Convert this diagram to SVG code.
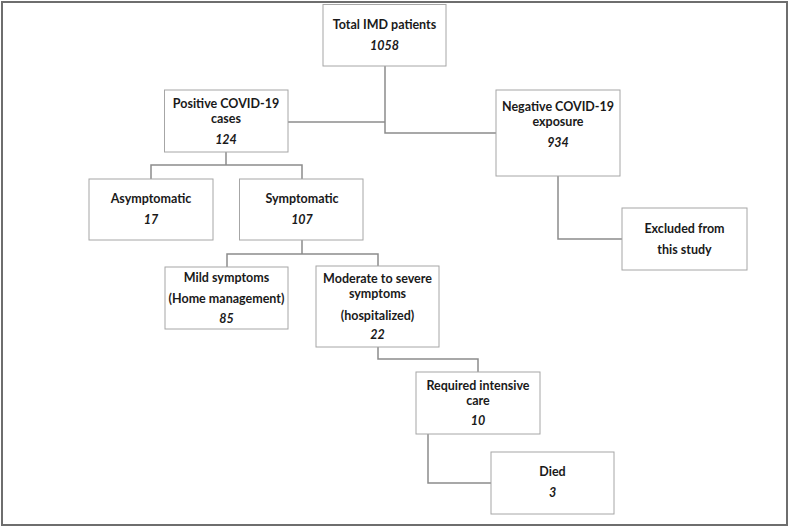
<svg xmlns="http://www.w3.org/2000/svg" width="790" height="528" viewBox="0 0 790 528">
<style>
.box{fill:#fff;stroke:#a6a6a6;stroke-width:1}
.t{font-family:Lato,"Open Sans","Liberation Sans",sans-serif;font-weight:bold;font-size:12.5px;fill:#1a1a1a;text-anchor:middle}
.n{font-style:italic}
.c{fill:none;stroke:#8c8c8c;stroke-width:1.5}
</style>
<rect x="0" y="0" width="790" height="528" fill="#fff"/>
<rect x="2" y="2" width="785" height="523" fill="none" stroke="#6e6e6e" stroke-width="2"/>
<g id="connectors">
<path class="c" d="M385,66 V133 H496"/>
<path class="c" d="M288,122 H385"/>
<path class="c" d="M558,176 V239 H622"/>
<path class="c" d="M226,152 V165 M151,179 V165 H302 V179"/>
<path class="c" d="M302,240 V254 M227,267 V254 H378 V266"/>
<path class="c" d="M378,347 V359 H478 V372"/>
<path class="c" d="M428,434 V483 H491"/>
</g>
<g id="total">
<rect class="box" x="323" y="4.5" width="123" height="61.5"/>
<text class="t" x="384.5" y="29">Total IMD patients</text>
<text class="t n" x="384.5" y="50">1058</text>
</g>
<g id="positive">
<rect class="box" x="164.5" y="90" width="123.5" height="62"/>
<text class="t" x="226" y="108">Positive COVID-19</text>
<text class="t" x="226" y="123">cases</text>
<text class="t n" x="226" y="144">124</text>
</g>
<g id="negative">
<rect class="box" x="496" y="90" width="124" height="86"/>
<text class="t" x="558" y="111">Negative COVID-19</text>
<text class="t" x="558" y="126">exposure</text>
<text class="t n" x="558" y="147">934</text>
</g>
<g id="excluded">
<rect class="box" x="622" y="208" width="125" height="62"/>
<text class="t" x="684.5" y="233">Excluded from</text>
<text class="t" x="684.5" y="254">this study</text>
</g>
<g id="asymptomatic">
<rect class="box" x="89" y="179" width="124" height="61"/>
<text class="t" x="151" y="203">Asymptomatic</text>
<text class="t n" x="151" y="224">17</text>
</g>
<g id="symptomatic">
<rect class="box" x="239.5" y="179" width="123.5" height="61"/>
<text class="t" x="302" y="203">Symptomatic</text>
<text class="t n" x="302" y="224">107</text>
</g>
<g id="mild">
<rect class="box" x="165" y="267" width="123" height="62"/>
<text class="t" x="226.5" y="282">Mild symptoms</text>
<text class="t" x="226.5" y="303">(Home management)</text>
<text class="t n" x="226.5" y="323">85</text>
</g>
<g id="moderate">
<rect class="box" x="316" y="266" width="123" height="81"/>
<text class="t" x="377.5" y="283">Moderate to severe</text>
<text class="t" x="377.5" y="298">symptoms</text>
<text class="t" x="377.5" y="320">(hospitalized)</text>
<text class="t n" x="377.5" y="339">22</text>
</g>
<g id="icu">
<rect class="box" x="416" y="372" width="124" height="62"/>
<text class="t" x="478" y="390">Required intensive</text>
<text class="t" x="478" y="405">care</text>
<text class="t n" x="478" y="425">10</text>
</g>
<g id="died">
<rect class="box" x="491" y="452" width="123" height="62"/>
<text class="t" x="552.5" y="476">Died</text>
<text class="t n" x="552.5" y="497">3</text>
</g>
</svg>
